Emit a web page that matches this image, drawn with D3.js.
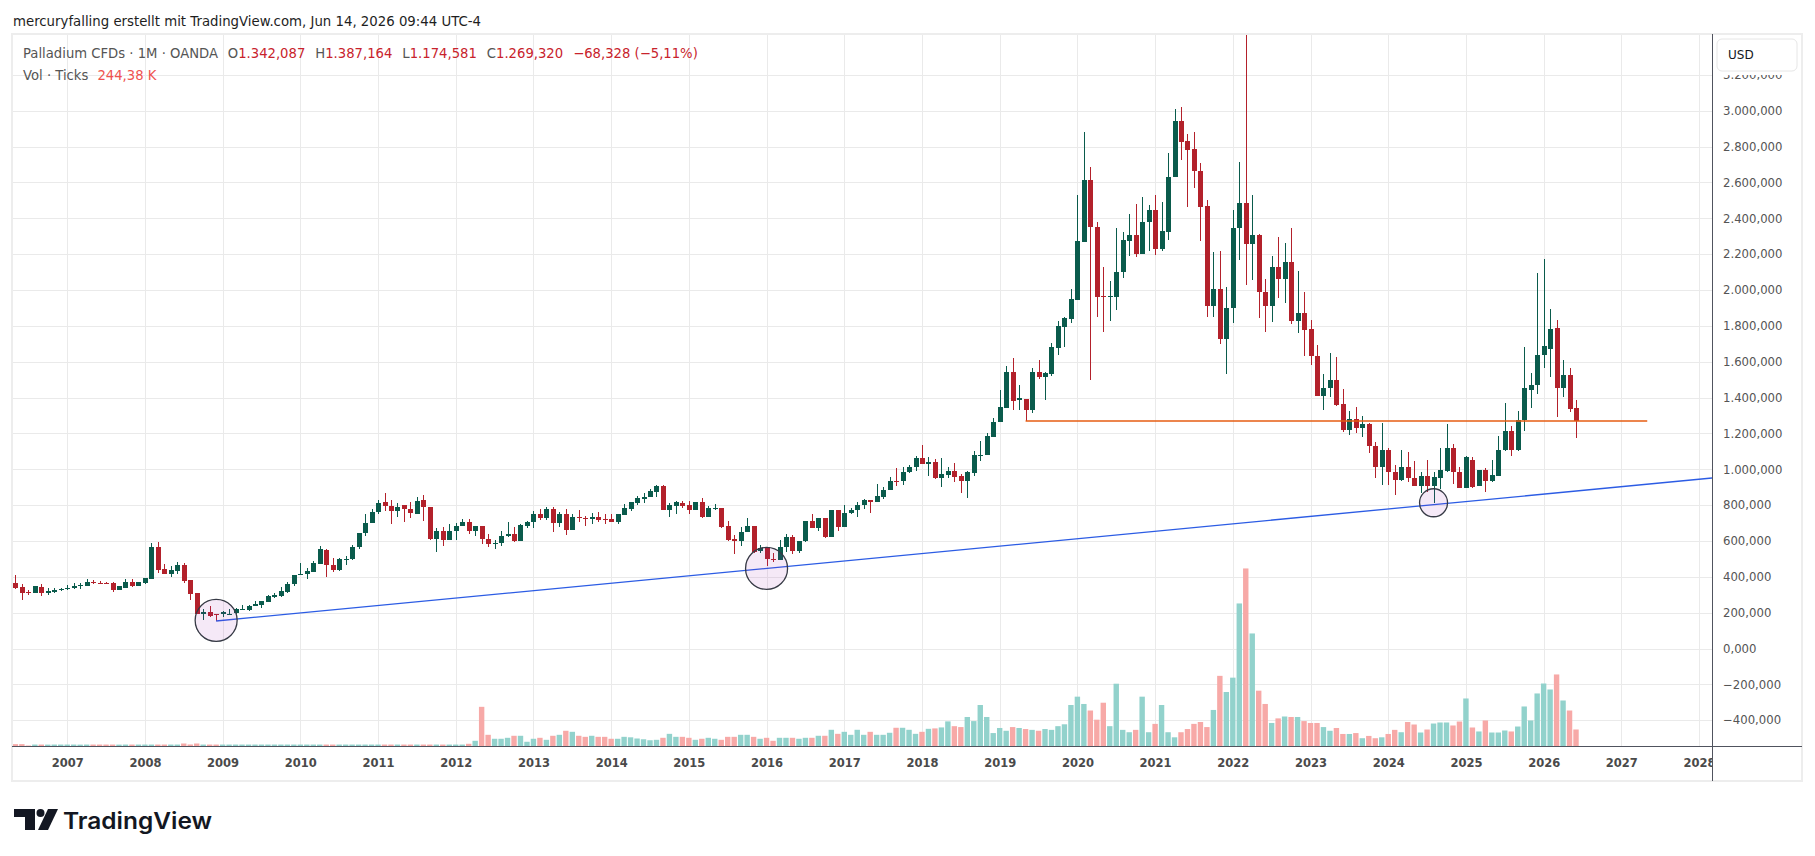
<!DOCTYPE html>
<html>
<head>
<meta charset="utf-8">
<script src="https://cdn.jsdelivr.net/npm/d3@7"></script>
<style>
  body { margin: 0; background: #fff; }
  svg { display: block; }
</style>
</head>
<body>
<div class="viz"></div>
<script>
var width = 1815,
    height = 856,
    plot = { left: 12, right: 1712, top: 34, bottom: 746.5 },
    frameRight = 1802,
    frameBottom = 781,
    upColor = "#0a5b4c",
    downColor = "#b3212b",
    volUpColor = "#92d2cc",
    volDownColor = "#f7a9a7",
    labelFont = "'DejaVu Sans', Verdana, sans-serif";

// monthly bars, May 2006 .. Jun 2026 (one row per year)
var firstYear = 2006,
    firstMonth = 4;

var opens = [
    364, 344, 318, 312, 344, 312, 318, 327,
    331, 340, 351, 351, 373, 368, 368, 366, 329, 340, 372, 346,
    368, 390, 567, 444, 418, 435, 466, 383, 308, 195, 201, 193,
    193, 189, 197, 217, 217, 236, 245, 262, 290, 294, 318, 362,
    411, 413, 429, 474, 552, 468, 440, 494, 498, 565, 647, 699,
    762, 815, 797, 766, 798, 781, 753, 831, 792, 610, 658, 604,
    654, 682, 708, 654, 686, 613, 582, 587, 626, 641, 600, 682,
    705, 748, 727, 776, 699, 751, 660, 731, 727, 723, 736, 720,
    720, 705, 746, 777, 811, 834, 847, 875, 905, 772, 795, 813,
    798, 772, 819, 733, 776, 782, 681, 612, 599, 649, 681, 543,
    566, 502, 495, 565, 623, 543, 597, 713, 672, 726, 621, 774,
    679, 756, 772, 802, 830, 819, 845, 886, 936, 936, 985, 1011,
    1065, 1028, 1043, 951, 970, 992, 964, 936, 980, 1077, 1077, 1180,
    1262, 1341, 1541, 1387, 1390, 1328, 1541, 1515, 1533, 1679, 1795, 1838,
    1944, 2269, 2615, 2351, 1969, 1962, 1962, 2098, 2274, 2305, 2200, 2377,
    2446, 2231, 2326, 2628, 2944, 2831, 2785, 2662, 2469, 1913, 2003, 1728,
    1897, 2344, 2485, 2254, 2305, 1990, 1913, 2128, 2064, 2159, 1828, 1869,
    1782, 1633, 1410, 1451, 1497, 1362, 1221, 1282, 1228, 1254, 1131, 1015,
    1105, 982, 941, 1015, 951, 908, 963, 909, 950, 989, 1119, 983,
    897, 1054, 909, 998, 933, 965, 1106, 1216, 1110, 1272, 1442, 1468,
    1635, 1673, 1786, 1455, 1524, 1342.087
];
var highs = [
    411, 360, 329, 351, 360, 338, 338, 340,
    353, 364, 368, 388, 381, 375, 372, 373, 351, 388, 388, 372,
    396, 589, 595, 472, 461, 483, 478, 383, 308, 221, 238, 195,
    212, 219, 225, 243, 245, 264, 264, 296, 307, 344, 370, 409,
    476, 448, 487, 572, 557, 507, 503, 518, 580, 647, 748, 781,
    831, 865, 826, 809, 801, 820, 848, 854, 792, 675, 680, 692,
    701, 723, 720, 686, 686, 641, 608, 658, 708, 680, 694, 712,
    766, 781, 787, 787, 762, 776, 751, 770, 742, 757, 764, 748,
    751, 751, 804, 820, 850, 865, 892, 914, 914, 813, 821, 825,
    821, 819, 838, 795, 804, 782, 709, 631, 679, 726, 681, 575,
    566, 534, 608, 638, 634, 601, 713, 748, 730, 726, 774, 774,
    799, 782, 819, 836, 830, 920, 899, 957, 1005, 1013, 1022, 1074,
    1138, 1071, 1056, 1061, 1015, 1033, 974, 990, 1103, 1156, 1205, 1285,
    1441, 1574, 1621, 1469, 1390, 1567, 1608, 1544, 1703, 1826, 1849, 2005,
    2531, 2882, 2687, 2377, 2131, 2049, 2346, 2321, 2423, 2480, 2518, 2474,
    2528, 2492, 2762, 3010, 3021, 2869, 2882, 2708, 2503, 2210, 2218, 2015,
    2444, 2713, 3440, 2528, 2313, 2062, 2190, 2295, 2262, 2346, 2105, 1987,
    1831, 1692, 1531, 1646, 1626, 1449, 1323, 1346, 1297, 1259, 1151, 1256,
    1118, 1021, 1110, 1095, 1046, 982, 1054, 985, 1119, 1250, 1143, 1015,
    1073, 1069, 998, 1006, 1054, 1188, 1369, 1240, 1324, 1682, 1535, 2094,
    2172, 1893, 1831, 1607, 1563, 1387.164
];
var lows = [
    333, 268, 299, 310, 294, 296, 312, 323,
    327, 333, 334, 351, 359, 360, 360, 318, 329, 338, 344, 346,
    362, 390, 424, 413, 401, 418, 368, 271, 191, 160, 176, 153.5,
    178, 189, 195, 217, 212, 236, 228, 262, 284, 290, 312, 349,
    409, 386, 429, 474, 397, 425, 431, 464, 496, 557, 630, 699,
    748, 766, 694, 733, 705, 727, 749, 714, 608, 541, 571, 604,
    608, 682, 641, 630, 585, 565, 557, 571, 623, 595, 597, 675,
    673, 716, 716, 649, 677, 632, 660, 708, 686, 694, 703, 697,
    705, 697, 746, 768, 800, 811, 843, 847, 771, 733, 748, 782,
    748, 772, 728, 733, 772, 672, 599, 526, 571, 649, 534, 534,
    459, 485, 495, 538, 526, 534, 594, 672, 655, 618, 621, 655,
    679, 748, 735, 776, 756, 817, 836, 882, 907, 910, 979, 992,
    1030, 963, 948, 901, 950, 931, 867, 841, 964, 1046, 1077, 1180,
    1262, 1341, 1333, 1333, 1269, 1315, 1503, 1385, 1521, 1636, 1682, 1815,
    1944, 2269, 1500, 1849, 1764, 1826, 1890, 2069, 2190, 2185, 2200, 2218,
    2195, 2215, 2277, 2628, 2726, 2464, 2569, 2272, 1849, 1849, 1697, 1533,
    1815, 2169, 2028, 2056, 1846, 1764, 1823, 1956, 1926, 1808, 1759, 1633,
    1582, 1410, 1331, 1405, 1354, 1208, 1190, 1200, 1180, 1092, 951, 910,
    910, 856, 936, 930, 905, 866, 871, 812, 892, 983, 918, 894,
    897, 897, 909, 871, 929, 961, 1101, 1073, 1101, 1216, 1341, 1419,
    1565, 1514, 1291, 1402, 1322, 1174.581
];
var closes = [
    338, 312, 310, 346, 307, 323, 329, 334,
    340, 351, 357, 373, 366, 362, 362, 329, 349, 370, 346, 370,
    394, 567, 440, 416, 440, 466, 379, 305, 195, 202, 182, 188,
    202, 195, 221, 221, 236, 251, 264, 294, 301, 321, 362, 409,
    418, 431, 478, 556, 464, 440, 500, 502, 569, 647, 701, 764,
    813, 794, 766, 790, 777, 755, 824, 789, 613, 658, 604, 658,
    686, 708, 654, 686, 611, 582, 591, 630, 641, 600, 688, 708,
    748, 727, 776, 699, 751, 660, 731, 727, 723, 736, 716, 716,
    705, 748, 783, 815, 837, 848, 877, 905, 771, 798, 815, 795,
    772, 819, 733, 782, 782, 676, 608, 599, 651, 681, 539, 562,
    498, 495, 567, 623, 543, 601, 713, 672, 726, 621, 774, 679,
    758, 774, 802, 830, 817, 849, 886, 936, 933, 987, 1013, 1065,
    1030, 1043, 951, 972, 992, 954, 936, 982, 1077, 1082, 1185, 1264,
    1346, 1541, 1379, 1395, 1328, 1541, 1515, 1538, 1682, 1797, 1844, 1949,
    2272, 2615, 2349, 1962, 1962, 1969, 2103, 2277, 2305, 2200, 2380, 2446,
    2231, 2328, 2631, 2944, 2828, 2782, 2662, 2464, 1913, 2003, 1728, 1897,
    2346, 2485, 2254, 2305, 1990, 1913, 2128, 2064, 2159, 1828, 1869, 1777,
    1633, 1410, 1451, 1497, 1359, 1221, 1282, 1228, 1254, 1131, 1015, 1105,
    982, 941, 1015, 951, 908, 965, 909, 959, 998, 1119, 983, 897,
    1069, 901, 998, 933, 968, 1110, 1216, 1106, 1276, 1451, 1468, 1635,
    1686, 1781, 1453, 1524, 1337.648, 1269.32
];
// tick volume, thousands
var volumes = [
    34, 34, 14, 28, 28, 27, 28, 28,
    28, 28, 27, 28, 28, 28, 28, 28, 27, 28, 28, 28,
    28, 28, 28, 28, 28, 28, 43, 29, 43, 28, 28, 28,
    28, 28, 28, 28, 28, 28, 28, 28, 28, 28, 28, 28,
    28, 28, 28, 28, 28, 28, 28, 28, 28, 28, 28, 28,
    28, 28, 28, 28, 28, 28, 28, 28, 28, 28, 28, 28,
    28, 28, 39, 82, 570, 168, 111, 111, 125, 154, 154, 68,
    111, 125, 96, 154, 168, 226, 211, 154, 139, 154, 139, 139,
    111, 111, 139, 132, 115, 104, 90, 96, 125, 182, 139, 139,
    125, 96, 111, 125, 111, 96, 139, 139, 168, 168, 139, 111,
    125, 82, 125, 125, 125, 111, 125, 125, 154, 154, 240, 182,
    211, 168, 240, 168, 211, 168, 168, 197, 269, 269, 240, 182,
    211, 254, 260, 274, 361, 292, 279, 424, 365, 596, 424, 193,
    266, 226, 279, 266, 251, 239, 226, 251, 239, 292, 319, 596,
    716, 611, 517, 385, 629, 292, 902, 239, 205, 239, 716, 205,
    325, 596, 205, 132, 205, 251, 325, 352, 279, 525, 1015, 783,
    989, 2055, 2558, 1624, 802, 611, 338, 404, 431, 424, 424, 365,
    338, 338, 279, 226, 266, 180, 180, 193, 119, 152, 119, 132,
    180, 239, 205, 352, 316, 201, 244, 330, 345, 345, 302, 359,
    690, 273, 216, 374, 201, 201, 230, 216, 287, 575, 374, 762,
    905, 819, 1035, 661, 517, 244.38
];

var yearTicks = [ 2007, 2008, 2009, 2010, 2011, 2012, 2013, 2014, 2015, 2016, 2017,
                  2018, 2019, 2020, 2021, 2022, 2023, 2024, 2025, 2026, 2027, 2028 ];
var priceTicks = [ -400, -200, 0, 200, 400, 600, 800, 1000, 1200, 1400, 1600, 1800,
                   2000, 2200, 2400, 2600, 2800, 3000, 3200 ];

// drawings on the chart (bar index + price)
var trendAnchors = [ { i: 31, p: 153.5 }, { i: 116, p: 447 } ];
var levelLine = { from: 156, to: 252 };
var circles = [ { i: 31, p: 157, r: 21 }, { i: 116, p: 447, r: 21 }, { i: 219, p: 813, r: 14 } ];

var de = d3.formatLocale( { decimal: ",", thousands: ".", grouping: [ 3 ], currency: [ "", "" ], minus: "\u2212" } ),
    priceFmt = de.format( ",.3f" ),
    pctFmt = de.format( ".2f" ),
    volFmt = de.format( ",.2f" );

var bars = opens.map( function( d, i ) {
    return { i: i, o: opens[ i ], h: highs[ i ], l: lows[ i ], c: closes[ i ], v: volumes[ i ] };
} );

var x = d3.scaleLinear().domain( [ -0.525, 262 ] ).range( [ plot.left, plot.right ] ),
    y = d3.scaleLinear().domain( [ -546.7, 3428.2 ] ).range( [ plot.bottom, plot.top ] ),
    yVol = d3.scaleLinear().domain( [ 0, 3070 ] ).range( [ plot.bottom, plot.bottom - 213.7 ] );

var yearIndex = function( yr ) {
    return ( yr - firstYear ) * 12 - firstMonth;
};

var svg = d3.select( ".viz" )
    .append( "svg" )
    .attr( "width", width )
    .attr( "height", height );

svg.append( "rect" ).attr( "width", width ).attr( "height", height ).attr( "fill", "#fff" );

var defs = svg.append( "defs" );
defs.append( "clipPath" ).attr( "id", "plotclip" )
    .append( "rect" )
    .attr( "x", plot.left ).attr( "y", plot.top )
    .attr( "width", plot.right - plot.left ).attr( "height", plot.bottom - plot.top );
defs.append( "clipPath" ).attr( "id", "timeclip" )
    .append( "rect" )
    .attr( "x", plot.left ).attr( "y", 0 )
    .attr( "width", plot.right - plot.left ).attr( "height", frameBottom - plot.bottom );

// grid
var grid = svg.append( "g" ).attr( "shape-rendering", "crispEdges" );
grid.selectAll( ".hgrid" )
    .data( priceTicks )
    .enter()
    .append( "line" )
    .attr( "x1", plot.left ).attr( "x2", plot.right )
    .attr( "y1", function( d ) { return Math.round( y( d ) ) + 0.5; } )
    .attr( "y2", function( d ) { return Math.round( y( d ) ) + 0.5; } )
    .attr( "stroke", "#eaeaea" );
grid.selectAll( ".vgrid" )
    .data( yearTicks )
    .enter()
    .append( "line" )
    .attr( "x1", function( d ) { return Math.round( x( yearIndex( d ) ) ) + 0.5; } )
    .attr( "x2", function( d ) { return Math.round( x( yearIndex( d ) ) ) + 0.5; } )
    .attr( "y1", plot.top ).attr( "y2", plot.bottom )
    .attr( "stroke", "#eaeaea" );

var chart = svg.append( "g" ).attr( "clip-path", "url(#plotclip)" );

// volume
chart.append( "g" )
    .selectAll( "rect" )
    .data( bars )
    .enter()
    .append( "rect" )
    .attr( "x", function( d ) { return x( d.i ) - 2.7; } )
    .attr( "width", 5.4 )
    .attr( "y", function( d ) { return yVol( d.v ); } )
    .attr( "height", function( d ) { return plot.bottom - yVol( d.v ); } )
    .attr( "fill", function( d ) { return d.c >= d.o ? volUpColor : volDownColor; } );

// candles
var candle = chart.append( "g" ).attr( "shape-rendering", "crispEdges" )
    .selectAll( "g" )
    .data( bars )
    .enter()
    .append( "g" );

candle.append( "line" )
    .attr( "x1", function( d ) { return Math.round( x( d.i ) ) + 0.5; } )
    .attr( "x2", function( d ) { return Math.round( x( d.i ) ) + 0.5; } )
    .attr( "y1", function( d ) { return y( d.h ); } )
    .attr( "y2", function( d ) { return y( d.l ); } )
    .attr( "stroke", function( d ) { return d.c >= d.o ? upColor : downColor; } );

candle.append( "rect" )
    .attr( "x", function( d ) { return Math.round( x( d.i ) ) - 2; } )
    .attr( "width", 5 )
    .attr( "y", function( d ) { return y( Math.max( d.o, d.c ) ); } )
    .attr( "height", function( d ) { return Math.max( 1, Math.abs( y( d.o ) - y( d.c ) ) ); } )
    .attr( "fill", function( d ) { return d.c >= d.o ? upColor : downColor; } );

// drawings
var slope = ( trendAnchors[ 1 ].p - trendAnchors[ 0 ].p ) / ( trendAnchors[ 1 ].i - trendAnchors[ 0 ].i ),
    endI = x.invert( plot.right );
chart.append( "line" )
    .attr( "x1", x( trendAnchors[ 0 ].i ) )
    .attr( "y1", y( trendAnchors[ 0 ].p ) )
    .attr( "x2", x( endI ) )
    .attr( "y2", y( trendAnchors[ 0 ].p + slope * ( endI - trendAnchors[ 0 ].i ) ) )
    .attr( "stroke", "#2c5ce4" )
    .attr( "stroke-width", 1.3 );

var lastClose = closes[ closes.length - 1 ];
chart.append( "line" )
    .attr( "x1", x( levelLine.from ) ).attr( "x2", x( levelLine.to ) )
    .attr( "y1", y( lastClose ) ).attr( "y2", y( lastClose ) )
    .attr( "stroke", "#e65c12" )
    .attr( "stroke-width", 1.3 );

chart.selectAll( ".circ" )
    .data( circles )
    .enter()
    .append( "circle" )
    .attr( "cx", function( d ) { return x( d.i ); } )
    .attr( "cy", function( d ) { return y( d.p ); } )
    .attr( "r", function( d ) { return d.r; } )
    .attr( "fill", "rgba(156,39,176,0.1)" )
    .attr( "stroke", "#363a45" )
    .attr( "stroke-width", 1.3 );

// price axis
var yAxis = svg.append( "g" )
    .attr( "transform", "translate(" + plot.right + ",0)" )
    .call( d3.axisRight( y ).tickValues( priceTicks ).tickFormat( priceFmt ).tickSize( 0 ).tickPadding( 11 ) );
yAxis.select( ".domain" ).remove();
yAxis.selectAll( "text" )
    .attr( "font-family", labelFont )
    .attr( "font-size", "11.7px" )
    .attr( "fill", "#555" );

// time axis
var yearIdx = yearTicks.map( yearIndex );
var xAxis = svg.append( "g" )
    .attr( "transform", "translate(0," + plot.bottom + ")" )
    .attr( "clip-path", "url(#timeclip)" )
    .call( d3.axisBottom( x ).tickValues( yearIdx ).tickFormat( function( d ) {
        return yearTicks[ yearIdx.indexOf( d ) ];
    } ).tickSize( 0 ).tickPadding( 12 ) );
xAxis.select( ".domain" ).remove();
xAxis.selectAll( "text" )
    .attr( "font-family", labelFont )
    .attr( "font-size", "11.5px" )
    .attr( "font-weight", "bold" )
    .attr( "fill", "#4a4a4a" );

// frame + axis lines
svg.append( "rect" )
    .attr( "x", plot.left ).attr( "y", plot.top )
    .attr( "width", frameRight - plot.left ).attr( "height", frameBottom - plot.top )
    .attr( "fill", "none" )
    .attr( "stroke", "#ededed" )
    .attr( "stroke-width", 2 );
svg.append( "line" )
    .attr( "x1", plot.left ).attr( "x2", frameRight )
    .attr( "y1", plot.bottom ).attr( "y2", plot.bottom )
    .attr( "stroke", "#50535e" );

// currency badge, it hides the top of the highest price label
svg.append( "rect" )
    .attr( "x", plot.right + 1 ).attr( "y", plot.top + 1 )
    .attr( "width", frameRight - plot.right - 2 ).attr( "height", 40 )
    .attr( "fill", "#fff" );
svg.append( "rect" )
    .attr( "x", 1717 ).attr( "y", 39 ).attr( "width", 80 ).attr( "height", 32 ).attr( "rx", 5 )
    .attr( "fill", "#fff" ).attr( "stroke", "#e6e6e6" );
svg.append( "text" )
    .attr( "x", 1728 ).attr( "y", 58.5 )
    .attr( "font-family", labelFont ).attr( "font-size", "12px" ).attr( "fill", "#131722" )
    .text( "USD" );
svg.append( "line" )
    .attr( "x1", plot.right + 0.5 ).attr( "x2", plot.right + 0.5 )
    .attr( "y1", plot.top ).attr( "y2", frameBottom )
    .attr( "stroke", "#50535e" );

// header
svg.append( "text" )
    .attr( "x", 13 ).attr( "y", 25.5 )
    .attr( "font-family", labelFont ).attr( "font-size", "13.3px" ).attr( "fill", "#1e1e1e" )
    .text( "mercuryfalling erstellt mit TradingView.com, Jun 14, 2026 09:44 UTC-4" );

var last = bars[ bars.length - 1 ],
    prev = bars[ bars.length - 2 ],
    change = last.c - prev.c,
    red = "#c8232c";

var legend = svg.append( "text" )
    .attr( "x", 23 ).attr( "y", 58 )
    .attr( "font-family", labelFont ).attr( "font-size", "13.2px" ).attr( "fill", "#555" );
legend.append( "tspan" ).text( "Palladium CFDs \u00b7 1M \u00b7 OANDA" );
[ [ "O", last.o ], [ "H", last.h ], [ "L", last.l ], [ "C", last.c ] ].forEach( function( d ) {
    legend.append( "tspan" ).attr( "dx", 10 ).text( d[ 0 ] );
    legend.append( "tspan" ).attr( "fill", red ).text( priceFmt( d[ 1 ] ) );
} );
legend.append( "tspan" ).attr( "dx", 10 ).attr( "fill", red )
    .text( priceFmt( change ) + " (" + pctFmt( change / prev.c * 100 ) + "%)" );

var volLegend = svg.append( "text" )
    .attr( "x", 23 ).attr( "y", 80 )
    .attr( "font-family", labelFont ).attr( "font-size", "13.2px" ).attr( "fill", "#555" );
volLegend.append( "tspan" ).text( "Vol \u00b7 Ticks" );
volLegend.append( "tspan" ).attr( "dx", 9 ).attr( "fill", "#ef5350" ).text( volFmt( last.v ) + " K" );

// logo
var logo = svg.append( "g" ).attr( "transform", "translate(14,808)" ).attr( "fill", "#131722" );
logo.append( "path" ).attr( "d", "M0,1 H21 V22 H11 V9 H0 Z" );
logo.append( "circle" ).attr( "cx", 26.5 ).attr( "cy", 5 ).attr( "r", 4 );
logo.append( "path" ).attr( "d", "M34,1 H44 L34,22 H24 Z" );
svg.append( "text" )
    .attr( "x", 63 ).attr( "y", 829 )
    .attr( "font-family", "Inter, 'Liberation Sans', sans-serif" )
    .attr( "font-weight", 600 )
    .attr( "font-size", "23px" )
    .attr( "textLength", 149 )
    .attr( "lengthAdjust", "spacingAndGlyphs" )
    .attr( "fill", "#131722" )
    .text( "TradingView" );
</script>
</body>
</html>
